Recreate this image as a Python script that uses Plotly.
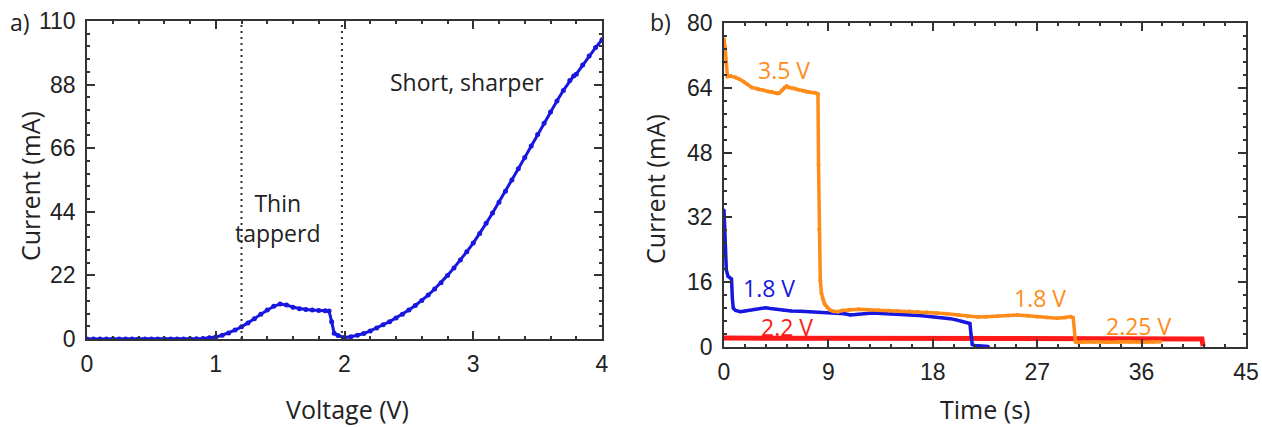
import plotly.graph_objects as go

# ---- panel a) I-V sweep ----
voltage = [0.00, 0.05, 0.10, 0.15, 0.20, 0.25, 0.30, 0.35, 0.40, 0.45,
           0.50, 0.55, 0.60, 0.65, 0.70, 0.75, 0.80, 0.85, 0.90, 0.95,
           1.00, 1.05, 1.10, 1.15, 1.20, 1.25, 1.30, 1.35, 1.40, 1.45,
           1.50, 1.55, 1.60, 1.65, 1.70, 1.75, 1.80, 1.85, 1.88, 1.90,
           1.92, 1.95, 2.00, 2.05, 2.10, 2.15, 2.20, 2.25, 2.30, 2.35,
           2.40, 2.45, 2.50, 2.55, 2.60, 2.65, 2.70, 2.75, 2.80, 2.85,
           2.90, 2.95, 3.00, 3.05, 3.10, 3.15, 3.20, 3.25, 3.30, 3.35,
           3.40, 3.45, 3.50, 3.55, 3.60, 3.65, 3.70, 3.75, 3.78, 3.80,
           3.85, 3.90, 3.95, 4.00]
current_iv = [0.0, 0.0, 0.0, 0.0, 0.0, 0.0, 0.0, 0.0, 0.0, 0.0,
              0.0, 0.0, 0.0, 0.0, 0.0, 0.0, 0.05, 0.1, 0.2, 0.4,
              0.7, 1.3, 2.1, 3.1, 4.2, 5.5, 7.0, 8.6, 10.0, 11.3,
              12.1, 11.8, 11.0, 10.5, 10.2, 10.0, 9.9, 9.8, 9.7, 6.0,
              2.0, 1.2, 0.5, 0.8, 1.3, 1.9, 2.8, 3.8, 4.9, 6.0,
              7.3, 8.6, 10.0, 11.6, 13.3, 15.2, 17.3, 19.5, 22.0, 24.6,
              27.3, 30.2, 33.2, 36.5, 40.0, 43.6, 47.3, 51.1, 55.0, 58.9,
              62.8, 66.8, 70.7, 74.6, 78.5, 82.3, 86.0, 89.4, 91.0, 91.6,
              94.8, 97.9, 100.8, 103.5]
region_bounds = [1.2, 1.98]

# ---- panel b) current vs time at fixed bias ----
t_orange = [0.0, 0.1, 0.2, 0.3, 0.6, 1.0, 1.3, 1.7, 2.0, 2.4,
            2.8, 3.0, 3.4, 3.8, 4.1, 4.4, 4.6, 4.8, 5.0, 5.2,
            5.4, 5.6, 5.9, 6.1, 6.4, 6.8, 7.1, 7.4, 7.8, 8.0,
            8.1, 8.15, 8.2, 8.3, 8.4, 8.5, 8.6, 8.7, 8.9, 9.1,
            9.4, 9.8, 10.2, 10.8, 11.6, 12.4, 13.3, 14.2, 15.0, 16.0,
            16.7, 17.5, 18.3, 19.2, 20.2, 21.0, 21.9, 22.6, 23.6, 24.5,
            25.3, 26.2, 27.0, 27.8, 28.7, 29.4, 29.9, 30.1, 30.3, 30.4,
            31.0, 32.0, 33.0, 34.0, 35.0, 36.0, 37.0, 37.6]
i_orange = [76.0, 74.0, 70.0, 66.8, 66.9, 66.6, 66.2, 65.5, 64.9, 64.1,
            63.8, 63.6, 63.4, 63.1, 63.0, 62.8, 62.6, 62.8, 63.4, 64.0,
            64.4, 64.1, 63.9, 63.8, 63.5, 63.3, 63.0, 62.9, 62.8, 62.6,
            62.5, 45.0, 29.1, 16.5, 13.3, 12.0, 11.2, 10.5, 9.8, 9.2,
            8.8, 8.7, 9.0, 9.2, 9.3, 9.2, 9.1, 9.0, 8.9, 8.8,
            8.7, 8.6, 8.4, 8.2, 7.9, 7.6, 7.4, 7.5, 7.6, 7.8,
            7.9, 7.7, 7.5, 7.3, 7.1, 7.3, 7.5, 7.2, 1.3, 1.2,
            1.3, 1.3, 1.2, 1.3, 1.3, 1.2, 1.3, 1.3]

t_blue = [0.0, 0.05, 0.1, 0.2, 0.35, 0.5, 0.65, 0.72, 0.8, 1.0,
          1.4, 1.8, 2.2, 2.7, 3.2, 3.6, 4.0, 4.5, 5.1, 5.8,
          6.6, 7.4, 8.2, 9.0, 9.8, 10.4, 10.9, 11.5, 12.1, 12.8,
          13.6, 14.4, 15.2, 16.0, 16.8, 17.5, 18.0, 18.8, 19.5, 20.0,
          20.5, 20.9, 21.2, 21.3, 21.4, 21.6, 22.0, 22.4, 22.8]
i_blue = [33.8, 30.0, 24.0, 19.0, 17.4, 17.2, 16.8, 12.0, 9.6, 9.0,
          8.7, 8.9, 9.1, 9.3, 9.5, 9.7, 9.5, 9.3, 9.1, 8.9,
          8.8, 8.7, 8.6, 8.5, 8.4, 8.2, 7.9, 8.1, 8.3, 8.4,
          8.3, 8.2, 8.2, 8.0, 7.8, 7.6, 7.5, 7.3, 7.0, 6.7,
          6.4, 6.1, 5.8, 3.0, 0.6, 0.4, 0.3, 0.2, 0.1]

t_red = [0.0, 5.0, 10.0, 15.0, 20.0, 25.0, 30.0, 35.0, 40.0, 41.2, 41.3]
i_red = [2.2, 2.2, 2.15, 2.1, 2.1, 2.1, 2.05, 2.05, 2.0, 2.0, 0.2]

BLUE = "#1717e0"
ORANGE = "#ff8c1a"
RED = "#ff1a1a"
TICK_FONT = dict(family="Liberation Sans, Arial, sans-serif", size=23, color="#222")
TEXT_FONT = "Open Sans, Noto Sans, sans-serif"

fig = go.Figure()

fig.add_trace(go.Scatter(x=voltage, y=current_iv, mode="lines+markers",
                         line=dict(color=BLUE, width=3),
                         marker=dict(color=BLUE, size=5),
                         xaxis="x", yaxis="y", showlegend=False))

fig.add_trace(go.Scatter(x=t_red, y=i_red, mode="lines",
                         line=dict(color=RED, width=5),
                         xaxis="x2", yaxis="y2", showlegend=False))
fig.add_trace(go.Scatter(x=t_blue, y=i_blue, mode="lines+markers",
                         line=dict(color=BLUE, width=3.5),
                         marker=dict(color=BLUE, size=3),
                         xaxis="x2", yaxis="y2", showlegend=False))
fig.add_trace(go.Scatter(x=t_orange, y=i_orange, mode="lines+markers",
                         line=dict(color=ORANGE, width=3.5),
                         marker=dict(color=ORANGE, size=4),
                         xaxis="x2", yaxis="y2", showlegend=False))

for xb in region_bounds:
    fig.add_shape(type="line", xref="x", yref="y domain", x0=xb, x1=xb, y0=0, y1=1,
                  line=dict(color="#333", width=2, dash="2px,4px"))

axis_common = dict(showline=True, linecolor="#333", linewidth=1.5, mirror="ticks",
                   ticks="inside", ticklen=8, tickwidth=1.5, tickcolor="#333",
                   showgrid=False, zeroline=False, tickfont=TICK_FONT,
                   automargin=False)

fig.update_layout(
    template="none",
    width=1262, height=427,
    margin=dict(l=0, r=0, t=0, b=0),
    paper_bgcolor="white", plot_bgcolor="white",
    xaxis=dict(domain=[87/1262, 602/1262], range=[0, 4], dtick=1, tick0=0,
               minor=dict(dtick=0.2, ticks="inside", ticklen=3, tickcolor="#333"),
               anchor="y", ticklabelstandoff=4, **axis_common),
    yaxis=dict(domain=[88/427, 406/427], range=[0, 110], dtick=22, tick0=0,
               minor=dict(dtick=4.4, ticks="inside", ticklen=3, tickcolor="#333"),
               anchor="x", ticklabelstandoff=5, **axis_common),
    xaxis2=dict(domain=[724/1262, 1246/1262], range=[0, 45], dtick=9, tick0=0,
                minor=dict(dtick=1.8, ticks="inside", ticklen=3, tickcolor="#333"),
                anchor="y2", ticklabelstandoff=4, **axis_common),
    yaxis2=dict(domain=[80/427, 404/427], range=[0, 80], dtick=16, tick0=0,
                minor=dict(dtick=3.2, ticks="inside", ticklen=3, tickcolor="#333"),
                anchor="x2", ticklabelstandoff=5, **axis_common),
)

def label(text, x, y, xref="paper", yref="paper", color="#222", size=24, angle=0):
    fig.add_annotation(text=text, x=x, y=y, xref=xref, yref=yref, showarrow=False,
                       textangle=angle, xanchor="center", yanchor="middle",
                       font=dict(family=TEXT_FONT, size=size, color=color))

W, H = 1262, 427
# panel tags and axis titles
label("a)", 20 / W, 1 - 22 / H, size=23)
label("b)", 660 / W, 1 - 22 / H, size=23)
label("Current (mA)", 30 / W, 1 - 186 / H, size=25, angle=-90)
label("Current (mA)", 655 / W, 1 - 189 / H, size=25, angle=-90)
label("Voltage (V)", 347 / W, 1 - 409 / H, size=25)
label("Time (s)", 985 / W, 1 - 409 / H, size=25)

# region labels in panel a)
label("Thin<br>tapperd", 1.48, 42.0, xref="x", yref="y", size=23)
label("Short, sharper", 2.95, 88.9, xref="x", yref="y", size=23)

# bias labels in panel b)
label("3.5 V", 5.2, 68.4, xref="x2", yref="y2", color=ORANGE, size=23)
label("1.8 V", 3.9, 14.6, xref="x2", yref="y2", color=BLUE, size=23)
label("2.2 V", 5.4, 5.0, xref="x2", yref="y2", color=RED, size=23)
label("1.8 V", 27.2, 12.1, xref="x2", yref="y2", color=ORANGE, size=23)
label("2.25 V", 35.7, 5.2, xref="x2", yref="y2", color=ORANGE, size=23)

fig.write_html("out.html")
